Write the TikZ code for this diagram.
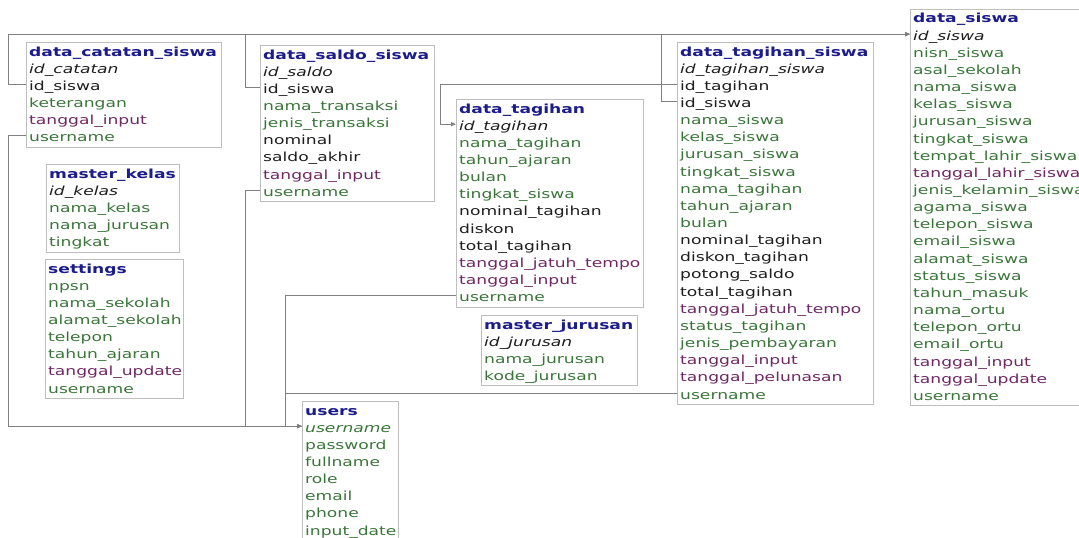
\documentclass[tikz,border=0pt]{standalone}
\usepackage{fontspec}
\setmainfont{DejaVu Sans}[FakeStretch=1.37]
\usetikzlibrary{arrows.meta}

\definecolor{titleblue}{RGB}{28,28,140}
\definecolor{fieldgreen}{RGB}{58,118,58}
\definecolor{datepurple}{RGB}{112,40,100}
\definecolor{keyblack}{RGB}{30,30,30}
\definecolor{boxgray}{RGB}{190,190,190}
\definecolor{linkgray}{RGB}{128,128,128}
\newcommand{\tablefont}{\fontsize{12.5}{15}\selectfont}

\begin{document}
\begin{tikzpicture}[x=1pt, y=-1pt,
	tablebox/.style 2 args={draw=boxgray, fill=white, anchor=north west, inner sep=0pt, line width=0.8pt, minimum width=#1, minimum height={19+#2*17.15}},
	fieldrow/.style={anchor=base west, inner xsep=3pt, inner ysep=0pt, text height=12pt, text depth=0pt, font=\tablefont},
	tabletitle/.style={fieldrow, font=\tablefont\bfseries, text=titleblue},
	keyrow/.style={fieldrow, font=\tablefont\itshape, text=keyblack},
	userkey/.style={keyrow, text=fieldgreen},
	plainrow/.style={fieldrow, text=keyblack},
	textrow/.style={fieldrow, text=fieldgreen},
	daterow/.style={fieldrow, text=datepurple},
	linkto/.style={draw=linkgray, line width=0.8pt, -{Triangle[length=5pt,width=4pt]}},
	]
	\fill[white] (0,0) rectangle (1079,538);
	\useasboundingbox (0,0) rectangle (1079,538);

	%Tables
	\node[tablebox={195}{5}] (catatan) at (26,42) {};
	\node[tabletitle] (catatan-0) at (26,56) {data\_catatan\_siswa};
	\foreach \s/\t [count=\i] in {keyrow/id\_catatan, plainrow/id\_siswa, textrow/keterangan, daterow/tanggal\_input, textrow/username}
		\node[\s] (catatan-\i) at (26,{56+\i*17.15}) {\t};

	\node[tablebox={133}{4}] (kelas) at (46,164) {};
	\node[tabletitle] (kelas-0) at (46,178) {master\_kelas};
	\foreach \s/\t [count=\i] in {keyrow/id\_kelas, textrow/nama\_kelas, textrow/nama\_jurusan, textrow/tingkat}
		\node[\s] (kelas-\i) at (46,{178+\i*17.15}) {\t};

	\node[tablebox={138}{7}] (settings) at (45,259) {};
	\node[tabletitle] (settings-0) at (45,273) {settings};
	\foreach \s/\t [count=\i] in {textrow/npsn, textrow/nama\_sekolah, textrow/alamat\_sekolah, textrow/telepon, textrow/tahun\_ajaran, daterow/tanggal\_update, textrow/username}
		\node[\s] (settings-\i) at (45,{273+\i*17.15}) {\t};

	\node[tablebox={174}{8}] (saldo) at (260,45) {};
	\node[tabletitle] (saldo-0) at (260,59) {data\_saldo\_siswa};
	\foreach \s/\t [count=\i] in {keyrow/id\_saldo, plainrow/id\_siswa, textrow/nama\_transaksi, textrow/jenis\_transaksi, plainrow/nominal, plainrow/saldo\_akhir, daterow/tanggal\_input, textrow/username}
		\node[\s] (saldo-\i) at (260,{59+\i*17.15}) {\t};

	\node[tablebox={187}{11}] (tagihan) at (456,99) {};
	\node[tabletitle] (tagihan-0) at (456,113) {data\_tagihan};
	\foreach \s/\t [count=\i] in {keyrow/id\_tagihan, textrow/nama\_tagihan, textrow/tahun\_ajaran, textrow/bulan, textrow/tingkat\_siswa, plainrow/nominal\_tagihan, plainrow/diskon, plainrow/total\_tagihan, daterow/tanggal\_jatuh\_tempo, daterow/tanggal\_input, textrow/username}
		\node[\s] (tagihan-\i) at (456,{113+\i*17.15}) {\t};

	\node[tablebox={156}{3}] (jurusan) at (481,315) {};
	\node[tabletitle] (jurusan-0) at (481,329) {master\_jurusan};
	\foreach \s/\t [count=\i] in {keyrow/id\_jurusan, textrow/nama\_jurusan, textrow/kode\_jurusan}
		\node[\s] (jurusan-\i) at (481,{329+\i*17.15}) {\t};

	\node[tablebox={96}{7}] (users) at (302,401) {};
	\node[tabletitle] (users-0) at (302,415) {users};
	\foreach \s/\t [count=\i] in {userkey/username, textrow/password, textrow/fullname, textrow/role, textrow/email, textrow/phone, textrow/input\_date}
		\node[\s] (users-\i) at (302,{415+\i*17.15}) {\t};

	\node[tablebox={196}{20}] (tsiswa) at (677,42) {};
	\node[tabletitle] (tsiswa-0) at (677,56) {data\_tagihan\_siswa};
	\foreach \s/\t [count=\i] in {keyrow/id\_tagihan\_siswa, plainrow/id\_tagihan, plainrow/id\_siswa, textrow/nama\_siswa, textrow/kelas\_siswa, textrow/jurusan\_siswa, textrow/tingkat\_siswa, textrow/nama\_tagihan, textrow/tahun\_ajaran, textrow/bulan, plainrow/nominal\_tagihan, plainrow/diskon\_tagihan, plainrow/potong\_saldo, plainrow/total\_tagihan, daterow/tanggal\_jatuh\_tempo, textrow/status\_tagihan, textrow/jenis\_pembayaran, daterow/tanggal\_input, daterow/tanggal\_pelunasan, textrow/username}
		\node[\s] (tsiswa-\i) at (677,{56+\i*17.15}) {\t};

	\node[tablebox={180}{22}] (siswa) at (910,9) {};
	\node[tabletitle] (siswa-0) at (910,23) {data\_siswa};
	\foreach \s/\t [count=\i] in {keyrow/id\_siswa, textrow/nisn\_siswa, textrow/asal\_sekolah, textrow/nama\_siswa, textrow/kelas\_siswa, textrow/jurusan\_siswa, textrow/tingkat\_siswa, textrow/tempat\_lahir\_siswa, daterow/tanggal\_lahir\_siswa, textrow/jenis\_kelamin\_siswa, textrow/agama\_siswa, textrow/telepon\_siswa, textrow/email\_siswa, textrow/alamat\_siswa, textrow/status\_siswa, textrow/tahun\_masuk, textrow/nama\_ortu, textrow/telepon\_ortu, textrow/email\_ortu, daterow/tanggal\_input, daterow/tanggal\_update, textrow/username}
		\node[\s] (siswa-\i) at (910,{23+\i*17.15}) {\t};

	%Lines
	\coordinate (leftbus) at (8,0);
	\coordinate (saldobus) at (245,0);
	\coordinate (userbus) at (285,0);
	\coordinate (tagihanbus) at (440,0);
	\coordinate (tsiswabus) at (661,0);

	\draw[linkto] (catatan-2.west) -- (catatan-2.west -| leftbus) |- (siswa-1.west);
	\draw[linkto] (saldo-2.west) -- (saldo-2.west -| saldobus) |- (siswa-1.west);
	\draw[linkto] (tsiswa-3.west) -- (tsiswa-3.west -| tsiswabus) |- (siswa-1.west);
	\draw[linkto] (tsiswa-2.west) -- (tsiswa-2.west -| tagihanbus) |- (tagihan-1.west);
	\draw[linkto] (catatan-5.west) -- (catatan-5.west -| leftbus) |- (users-1.west);
	\draw[linkto] (saldo-8.west) -- (saldo-8.west -| saldobus) |- (users-1.west);
	\draw[linkto] (tagihan-11.west) -- (tagihan-11.west -| userbus) |- (users-1.west);
	\draw[linkto] (tsiswa-20.west) -- (tsiswa-20.west -| userbus) |- (users-1.west);

\end{tikzpicture}
\end{document}
